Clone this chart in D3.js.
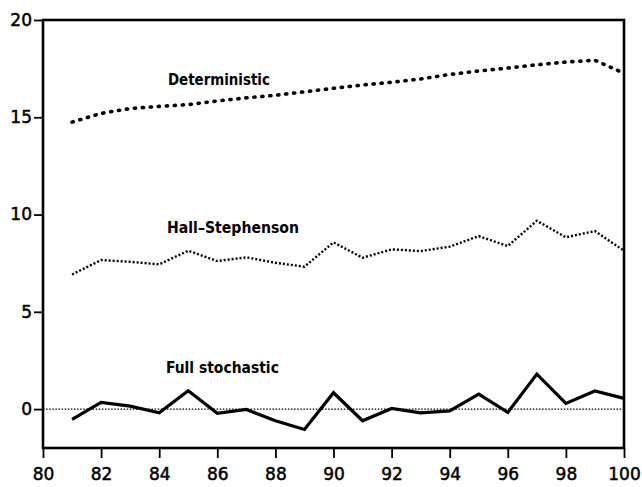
<!DOCTYPE html>
<html>
<head>
<meta charset="utf-8">
<script src="https://cdn.jsdelivr.net/npm/d3@7"></script>
<style>
  html, body { margin: 0; padding: 0; background: #fff; }
  svg { display: block; }
  text { font-family: "DejaVu Sans", sans-serif; fill: #000; }
</style>
</head>
<body>
<svg id="chart" width="642" height="487"></svg>
<script>
// Years on the horizontal axis
const years = [81, 82, 83, 84, 85, 86, 87, 88, 89, 90, 91, 92, 93, 94, 95, 96, 97, 98, 99, 100];

// Model series
const deterministic = [14.75, 15.2, 15.45, 15.56, 15.65, 15.84, 16.0, 16.13, 16.31, 16.49,
                       16.66, 16.8, 16.97, 17.2, 17.38, 17.53, 17.7, 17.84, 17.93, 17.26];
const hallStephenson = [6.92, 7.66, 7.57, 7.44, 8.14, 7.61, 7.8, 7.52, 7.32, 8.57,
                        7.78, 8.21, 8.12, 8.35, 8.89, 8.38, 9.68, 8.83, 9.15, 8.14];
const fullStochastic = [-0.53, 0.34, 0.15, -0.19, 0.94, -0.22, -0.02, -0.6, -1.05, 0.84,
                        -0.6, 0.03, -0.19, -0.09, 0.77, -0.17, 1.8, 0.29, 0.93, 0.55];

// Axis ticks
const xTicks = [80, 82, 84, 86, 88, 90, 92, 94, 96, 98, 100];
const yTicks = [0, 5, 10, 15, 20];

const svg = d3.select("#chart");
const plotLeft = 43, plotRight = 624, plotTop = 20, plotBottom = 448;

const x = d3.scaleLinear().domain([80, 100]).range([plotLeft, plotRight]);
const y = d3.scaleLinear().domain([-2, 20]).range([plotBottom, plotTop]);

// Zero reference line
svg.append("line")
  .attr("x1", x(80)).attr("x2", x(100))
  .attr("y1", y(0)).attr("y2", y(0))
  .attr("stroke", "#000").attr("stroke-width", 1.3)
  .attr("stroke-dasharray", "1.5 1.6");

const line = d3.line().x((d, i) => x(years[i])).y(d => y(d));

// Deterministic: heavy round dots
svg.append("path").datum(deterministic)
  .attr("d", line).attr("fill", "none")
  .attr("stroke", "#000").attr("stroke-width", 3.6)
  .attr("stroke-linecap", "round")
  .attr("stroke-dasharray", "1.2 6.8");

// Hall-Stephenson: fine dots
svg.append("path").datum(hallStephenson)
  .attr("d", line).attr("fill", "none")
  .attr("stroke", "#000").attr("stroke-width", 2.4)
  .attr("stroke-dasharray", "2 2");

// Full stochastic: solid line
svg.append("path").datum(fullStochastic)
  .attr("d", line).attr("fill", "none")
  .attr("stroke", "#000").attr("stroke-width", 3.2)
  .attr("stroke-linejoin", "miter");

// Axes
const xAxis = d3.axisBottom(x).tickValues(xTicks).tickSize(10).tickSizeOuter(0)
  .tickFormat(d3.format("d"));
const gx = svg.append("g").attr("transform", `translate(0,${plotBottom})`).call(xAxis);
gx.select(".domain").remove();
gx.selectAll(".tick line").attr("stroke-width", 1.8);
gx.selectAll(".tick text")
  .attr("dy", null).attr("y", 32)
  .attr("stroke", "#000").attr("stroke-width", 0.5)
  .style("font-size", "17px").style("font-family", "DejaVu Sans, sans-serif");

const yAxis = d3.axisLeft(y).tickValues(yTicks).tickSize(9).tickSizeOuter(0);
const gy = svg.append("g").attr("transform", `translate(${plotLeft},0)`).call(yAxis);
gy.select(".domain").remove();
gy.selectAll(".tick line").attr("stroke-width", 1.8);
gy.selectAll(".tick text")
  .attr("x", -11)
  .attr("stroke", "#000").attr("stroke-width", 0.5)
  .style("font-size", "17px").style("font-family", "DejaVu Sans, sans-serif");

// Frame
svg.append("rect")
  .attr("x", plotLeft).attr("y", plotTop)
  .attr("width", plotRight - plotLeft).attr("height", plotBottom - plotTop)
  .attr("fill", "none").attr("stroke", "#000").attr("stroke-width", 2.6);

// Series labels
const labels = [
  { text: "Deterministic", year: 84.3, value: 16.66, len: 102 },
  { text: "Hall\u2013Stephenson", year: 84.27, value: 9.05, len: 132 },
  { text: "Full stochastic", year: 84.23, value: 1.85, len: 113 }
];
svg.selectAll("text.series").data(labels).enter().append("text")
  .attr("class", "series")
  .attr("x", d => x(d.year)).attr("y", d => y(d.value))
  .attr("textLength", d => d.len).attr("lengthAdjust", "spacingAndGlyphs")
  .style("font-size", "15.5px").style("font-weight", "bold")
  .text(d => d.text);
</script>
</body>
</html>
